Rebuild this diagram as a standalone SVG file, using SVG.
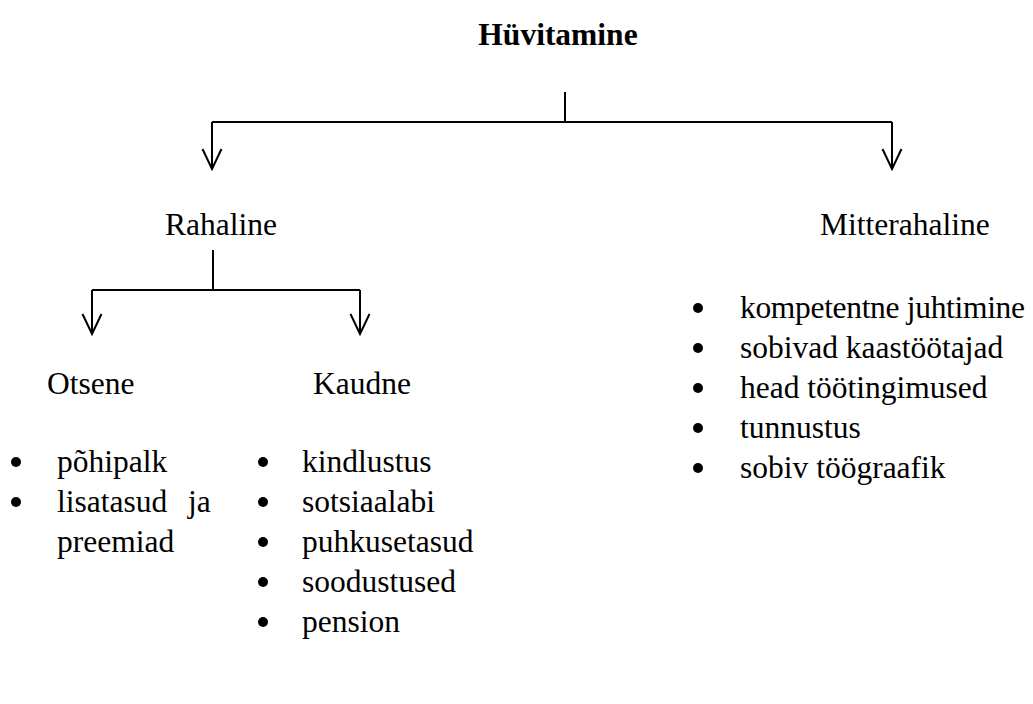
<svg xmlns="http://www.w3.org/2000/svg" width="1033" height="704" viewBox="0 0 1033 704">
<style>
text{font-family:"Liberation Serif","Times New Roman",serif;font-size:31.5px;fill:#000}
.t{font-weight:bold}
.c{stroke:#000;stroke-width:2;fill:none}
</style>
<defs>
<marker id="ah" markerWidth="24" markerHeight="22" refX="22" refY="11" orient="auto" markerUnits="userSpaceOnUse" viewBox="0 0 24 22">
<path d="M2,1.5 L22,11 L2,20.5" stroke="#000" stroke-width="2" fill="none"/>
</marker>
</defs>
<rect width="1033" height="704" fill="#fff"/>
<g id="connectors">
<path class="c" d="M565,92 V122"/>
<path class="c" d="M212,122 H892"/>
<path class="c" d="M212,122 V169" marker-end="url(#ah)"/>
<path class="c" d="M892,122 V169" marker-end="url(#ah)"/>
<path class="c" d="M213,250 V290"/>
<path class="c" d="M92,290 H360"/>
<path class="c" d="M92,290 V334" marker-end="url(#ah)"/>
<path class="c" d="M360,290 V334" marker-end="url(#ah)"/>
</g>
<g id="n-huvitamine"><text class="t" x="558" y="45" text-anchor="middle">Hüvitamine</text></g>
<g id="n-rahaline"><text x="165" y="235">Rahaline</text></g>
<g id="n-mitterahaline"><text x="820" y="235">Mitterahaline</text></g>
<g id="n-otsene"><text x="47" y="394">Otsene</text></g>
<g id="n-kaudne"><text x="313" y="394">Kaudne</text></g>
<g id="l-otsene">
<circle cx="16" cy="462" r="5"/><text x="57" y="472">põhipalk</text>
<circle cx="16" cy="502" r="5"/><text x="57" y="512">lisatasud</text><text x="188" y="512">ja</text>
<text x="57" y="552">preemiad</text>
</g>
<g id="l-kaudne">
<circle cx="263" cy="462" r="5"/><text x="302" y="472">kindlustus</text>
<circle cx="263" cy="502" r="5"/><text x="302" y="512">sotsiaalabi</text>
<circle cx="263" cy="542" r="5"/><text x="302" y="552">puhkusetasud</text>
<circle cx="263" cy="582" r="5"/><text x="302" y="592">soodustused</text>
<circle cx="263" cy="622" r="5"/><text x="302" y="632">pension</text>
</g>
<g id="l-mitterahaline">
<circle cx="698" cy="308" r="5"/><text x="740" y="318" textLength="285">kompetentne juhtimine</text>
<circle cx="698" cy="348" r="5"/><text x="740" y="358">sobivad kaastöötajad</text>
<circle cx="698" cy="388" r="5"/><text x="740" y="398">head töötingimused</text>
<circle cx="698" cy="428" r="5"/><text x="740" y="438">tunnustus</text>
<circle cx="698" cy="468" r="5"/><text x="740" y="478">sobiv töögraafik</text>
</g>
</svg>
